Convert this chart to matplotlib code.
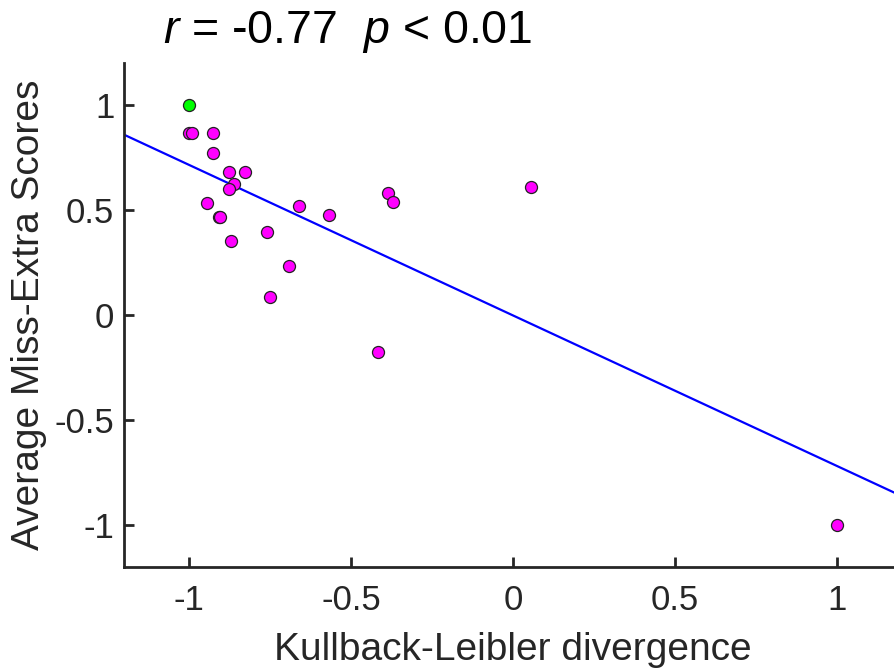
import numpy as np
import matplotlib
matplotlib.use("Agg")
import matplotlib.pyplot as plt

plt.rcParams['font.family'] = ['Liberation Sans', 'DejaVu Sans']
plt.rcParams['axes.unicode_minus'] = False
plt.rcParams['mathtext.fontset'] = 'custom'
plt.rcParams['mathtext.rm'] = 'Liberation Sans'
plt.rcParams['mathtext.it'] = 'Liberation Sans:italic'

# Data
kl_div = [-1.0, -0.99, -0.925, -0.924, -0.877, -0.828, -0.862, -0.877,
          -0.944, -0.908, -0.903, -0.869, -0.758, -0.660, -0.567, -0.690,
          -0.750, -0.386, -0.370, 0.054, -0.417, 1.0]
miss_extra = [0.865, 0.865, 0.865, 0.773, 0.681, 0.681, 0.624, 0.598,
              0.532, 0.465, 0.465, 0.354, 0.397, 0.519, 0.476, 0.233,
              0.084, 0.583, 0.540, 0.611, -0.175, -1.0]
highlight_x = [-1.0]
highlight_y = [1.0]
xticks = [-1, -0.5, 0, 0.5, 1]
yticks = [-1, -0.5, 0, 0.5, 1]
xticklabels = ['-1', '-0.5', '0', '0.5', '1']
yticklabels = ['-1', '-0.5', '0', '0.5', '1']
title_text = r'$r$ = -0.77  $p$ < 0.01'

W, H = 894, 668
fig = plt.figure(figsize=(W / 100, H / 100), dpi=100)
ax = fig.add_axes([124 / W, (H - 567) / H, 778 / W, 504 / H])

xs = np.array(kl_div + highlight_x)
ys = np.array(miss_extra + highlight_y)
slope, intercept = np.polyfit(xs, ys, 1)
xl = np.array([-1.2, 1.2])
ax.plot(xl, slope * xl + intercept, color='#0000ff', lw=1.6, zorder=2)

ax.scatter(kl_div, miss_extra, s=75, c='#ff00ff', edgecolors='#222222',
           linewidths=0.9, zorder=3)
ax.scatter(highlight_x, highlight_y, s=75, c='#00ff00', edgecolors='#222222',
           linewidths=0.9, zorder=3)

ax.set_xlim(-1.2, 1.2)
ax.set_ylim(-1.2, 1.2)
ax.set_xticks(xticks)
ax.set_xticklabels(xticklabels)
ax.set_yticks(yticks)
ax.set_yticklabels(yticklabels)
for s in ['top', 'right']:
    ax.spines[s].set_visible(False)
for s in ['left', 'bottom']:
    ax.spines[s].set_linewidth(2)
    ax.spines[s].set_color('#262626')
ax.tick_params(direction='in', length=7, width=2, color='#262626',
               labelsize=25, labelcolor='#262626')
ax.tick_params(axis='y', pad=7)
ax.tick_params(axis='x', pad=12)
ax.set_xlabel('Kullback-Leibler divergence', fontsize=28, color='#262626')
ax.set_ylabel('Average Miss-Extra Scores', fontsize=28, color='#262626')
ax.xaxis.label.set_va('baseline')
ax.xaxis.set_label_coords((513 - 124) / 778, -(660 - 567) / 504)
ax.yaxis.label.set_va('center')
ax.yaxis.set_label_coords(-(124 - 29) / 778, (567 - 315) / 504)

fig.text(163 / W, 1 - 43 / H, title_text, fontsize=33.5, color='black',
         ha='left', va='baseline')

fig.savefig('out.png', dpi=100)
